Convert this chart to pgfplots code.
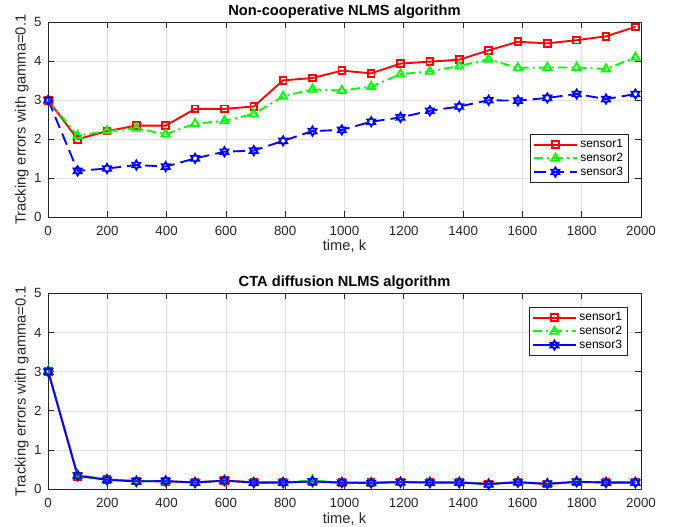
\documentclass[border=0pt]{standalone}
\usepackage{fontspec}
\setmainfont{Liberation Sans}
\usepackage{pgfplots}
\pgfplotsset{compat=1.18}
\definecolor{gridgray}{gray}{0.88}
\definecolor{axisgray}{gray}{0.15}

\pgfdeclareplotmark{hexagram}{%
  \pgfpathmoveto{\pgfpointpolar{90}{\pgfplotmarksize}}%
  \pgfpathlineto{\pgfpointpolar{120}{0.57735\pgfplotmarksize}}%
  \pgfpathlineto{\pgfpointpolar{150}{\pgfplotmarksize}}%
  \pgfpathlineto{\pgfpointpolar{180}{0.57735\pgfplotmarksize}}%
  \pgfpathlineto{\pgfpointpolar{210}{\pgfplotmarksize}}%
  \pgfpathlineto{\pgfpointpolar{240}{0.57735\pgfplotmarksize}}%
  \pgfpathlineto{\pgfpointpolar{270}{\pgfplotmarksize}}%
  \pgfpathlineto{\pgfpointpolar{300}{0.57735\pgfplotmarksize}}%
  \pgfpathlineto{\pgfpointpolar{330}{\pgfplotmarksize}}%
  \pgfpathlineto{\pgfpointpolar{0}{0.57735\pgfplotmarksize}}%
  \pgfpathlineto{\pgfpointpolar{30}{\pgfplotmarksize}}%
  \pgfpathlineto{\pgfpointpolar{60}{0.57735\pgfplotmarksize}}%
  \pgfpathclose
  \pgfusepathqstroke
}

\pgfplotsset{
  mstyle/.style={
    scale only axis,
    width=444.75pt,
    xmin=0, xmax=2000, ymin=0, ymax=5,
    xtick={0,200,...,2000}, ytick={0,1,...,5},
    grid=major,
    major grid style={color=gridgray, line width=0.5pt},
    tick align=inside, xtick pos=both, ytick pos=both,
    major tick length=4.5pt,
    axis line style={color=axisgray, line width=0.6pt},
    every tick/.style={color=axisgray, line width=0.6pt},
    ticklabel style={font=\fontsize{10}{12}\selectfont, color=axisgray},
    xticklabel style={yshift=-3.2pt},
    yticklabel style={xshift=-1.4pt},
    /pgf/number format/assume math mode=true,
    /pgf/number format/set thousands separator={},
    scaled x ticks=false,
    title style={font=\fontsize{11}{13}\selectfont\bfseries, anchor=center, at={(axis description cs:0.5,1)}, yshift=2pt},
    ylabel style={font=\fontsize{11}{13}\selectfont, color=axisgray, anchor=center, at={(axis description cs:-0.0443,0.5)}},
    xlabel style={font=\fontsize{11}{13}\selectfont, color=axisgray, anchor=center},
    ylabel={Tracking errors with gamma=0.1},
    xlabel={time, k},
    legend cell align=left,
    legend style={font=\fontsize{9}{10}\selectfont, draw=axisgray,
      row sep=-1.5pt, inner sep=1.8pt, nodes={inner sep=2pt}},
    legend image code/.code={%
      \draw[line width=1.4pt, mark repeat=2, mark phase=2] plot coordinates {(0pt,0pt) (16pt,0pt) (32pt,0pt)};},
  },
  s1/.style={color=red, line width=1.4pt, mark=square, mark size=2.5pt, mark options={solid}},
  s2/.style={color=green, line width=1.4pt, dash pattern=on 7pt off 3pt on 1.5pt off 3pt, mark=triangle, mark size=3.5pt, mark options={solid}},
  s3/.style={color=blue, line width=1.4pt, mark=hexagram, mark size=3.4pt, mark options={solid}},
}

\begin{document}
\begin{tikzpicture}
\useasboundingbox (0,0) rectangle (505.5pt,395.25pt);

\begin{axis}[mstyle, height=146.25pt,
  at={(36pt,232.3pt)}, anchor=south west,
  title={Non-cooperative NLMS algorithm},
  xlabel style={at={(axis description cs:0.5,-0.1504)}},
  legend style={at={(0.9786,0.178)}, anchor=south east}]
\addplot[s1] coordinates {(1,3.00) (100,2.00) (199,2.21) (298,2.35) (397,2.35) (496,2.78) (595,2.78) (694,2.84) (793,3.51) (892,3.57) (991,3.76) (1090,3.69) (1189,3.94) (1288,3.99) (1387,4.04) (1486,4.28) (1585,4.50) (1684,4.46) (1783,4.54) (1882,4.64) (1981,4.88)};
\addplot[s2] coordinates {(1,3.00) (100,2.09) (199,2.21) (298,2.28) (397,2.13) (496,2.40) (595,2.47) (694,2.65) (793,3.10) (892,3.28) (991,3.25) (1090,3.35) (1189,3.67) (1288,3.74) (1387,3.88) (1486,4.05) (1585,3.83) (1684,3.84) (1783,3.84) (1882,3.80) (1981,4.10)};
\addplot[s3, dash pattern=on 9pt off 4.5pt] coordinates {(1,3.00) (100,1.19) (199,1.25) (298,1.34) (397,1.30) (496,1.51) (595,1.68) (694,1.71) (793,1.96) (892,2.21) (991,2.24) (1090,2.45) (1189,2.56) (1288,2.73) (1387,2.84) (1486,3.00) (1585,2.99) (1684,3.06) (1783,3.16) (1882,3.03) (1981,3.16)};
\legend{sensor1, sensor2, sensor3}
\end{axis}

\begin{axis}[mstyle, height=147pt,
  at={(36pt,28.3pt)}, anchor=south west,
  title={CTA diffusion NLMS algorithm},
  xlabel style={at={(axis description cs:0.5,-0.1517)}},
  legend style={at={(0.977,0.9286)}, anchor=north east}]
\addplot[s1] coordinates {(1,3.00) (100,0.33) (199,0.25) (298,0.21) (397,0.20) (496,0.18) (595,0.22) (694,0.18) (793,0.18) (892,0.19) (991,0.17) (1090,0.17) (1189,0.19) (1288,0.18) (1387,0.18) (1486,0.14) (1585,0.18) (1684,0.13) (1783,0.19) (1882,0.18) (1981,0.18)};
\addplot[s2] coordinates {(1,3.02) (100,0.37) (199,0.25) (298,0.21) (397,0.21) (496,0.17) (595,0.23) (694,0.17) (793,0.17) (892,0.23) (991,0.17) (1090,0.16) (1189,0.18) (1288,0.18) (1387,0.18) (1486,0.13) (1585,0.19) (1684,0.14) (1783,0.20) (1882,0.17) (1981,0.17)};
\addplot[s3] coordinates {(1,3.00) (100,0.35) (199,0.24) (298,0.20) (397,0.21) (496,0.17) (595,0.22) (694,0.17) (793,0.17) (892,0.20) (991,0.17) (1090,0.16) (1189,0.18) (1288,0.17) (1387,0.17) (1486,0.13) (1585,0.18) (1684,0.14) (1783,0.19) (1882,0.17) (1981,0.17)};
\legend{sensor1, sensor2, sensor3}
\end{axis}
\end{tikzpicture}
\end{document}
